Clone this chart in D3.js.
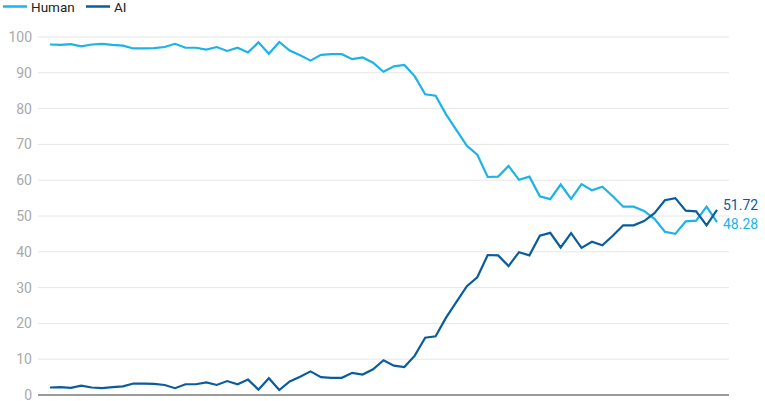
<!DOCTYPE html>
<html>
<head>
<meta charset="utf-8">
<script src="https://cdn.jsdelivr.net/npm/d3@7"></script>
<style>
html,body{margin:0;padding:0;background:#fff;}
svg{display:block;font-family:Roboto,"Noto Sans",sans-serif;}
</style>
</head>
<body>
<svg id="chart" width="765" height="401"></svg>
<script>
const seriesNames = ["Human", "AI"];
const colors = ["#1cb3e6", "#0a5d9c"];
const yTicks = [0, 10, 20, 30, 40, 50, 60, 70, 80, 90, 100];
const human = [97.9,97.8,98.0,97.4,97.9,98.1,97.8,97.6,96.8,96.8,96.9,97.2,98.1,97.0,97.0,96.5,97.2,96.1,97.0,95.7,
  98.5,95.3,98.6,96.2,94.9,93.4,95.0,95.2,95.2,93.8,94.3,92.8,90.3,91.8,92.2,89.0,84.0,83.6,78.4,74.0,
  69.6,67.1,60.9,61.0,64.0,60.1,61.0,55.5,54.7,58.8,54.8,58.9,57.2,58.2,55.5,52.6,52.6,51.4,49.2,45.6,
  45.0,48.5,48.7,52.6,48.28];
const ai = [2.1,2.2,2.0,2.6,2.1,1.9,2.2,2.4,3.2,3.2,3.1,2.8,1.9,3.0,3.0,3.5,2.8,3.9,3.0,4.3,
  1.5,4.7,1.4,3.8,5.1,6.6,5.0,4.8,4.8,6.2,5.7,7.2,9.7,8.2,7.8,11.0,16.0,16.4,21.6,26.0,
  30.4,32.9,39.1,39.0,36.0,39.9,39.0,44.5,45.3,41.2,45.2,41.1,42.8,41.8,44.5,47.4,47.4,48.6,50.8,54.4,
  55.0,51.5,51.3,47.4,51.72];
const series = [human, ai];

const svg = d3.select("#chart");
const x = d3.scaleLinear().domain([0, human.length - 1]).range([50, 717]);
const y = d3.scaleLinear().domain([0, 100]).range([395, 37]);

// gridlines
svg.append("g").selectAll("line").data(yTicks.filter(d => d > 0)).join("line")
  .attr("x1", 38).attr("x2", 729)
  .attr("y1", d => y(d)).attr("y2", d => y(d))
  .attr("stroke", "#e6e6e6").attr("stroke-width", 1);

// y labels
svg.append("g").selectAll("text").data(yTicks).join("text")
  .attr("x", 32).attr("y", d => y(d) + 5)
  .attr("text-anchor", "end")
  .attr("fill", "#a9a9a9").attr("font-size", 14)
  .text(d => d);

// x axis baseline
svg.append("line").attr("x1", 38).attr("x2", 729)
  .attr("y1", y(0)).attr("y2", y(0))
  .attr("stroke", "#9a9a9a").attr("stroke-width", 2);

// lines
const line = d3.line().x((d, i) => x(i)).y(d => y(d));
series.forEach((s, k) => {
  svg.append("path").datum(s).attr("d", line)
    .attr("fill", "none").attr("stroke", colors[k])
    .attr("stroke-width", 2.2).attr("stroke-linejoin", "miter");
});

// end labels
const lastIdx = human.length - 1;
svg.append("text").attr("x", 723).attr("y", 210).attr("fill", colors[1])
  .attr("font-size", 14).text(d3.format(".2f")(ai[lastIdx]));
svg.append("text").attr("x", 723).attr("y", 229).attr("fill", colors[0])
  .attr("font-size", 14).text(d3.format(".2f")(human[lastIdx]));

// legend
const legend = svg.append("g");
const legX = [3, 86];
seriesNames.forEach((n, k) => {
  legend.append("line").attr("x1", legX[k]).attr("x2", legX[k] + 24)
    .attr("y1", 6.5).attr("y2", 6.5)
    .attr("stroke", colors[k]).attr("stroke-width", 2.5);
  legend.append("text").attr("x", legX[k] + 28).attr("y", 11.5)
    .attr("font-size", 13.5).attr("fill", "#222").text(n);
});
</script>
</body>
</html>
